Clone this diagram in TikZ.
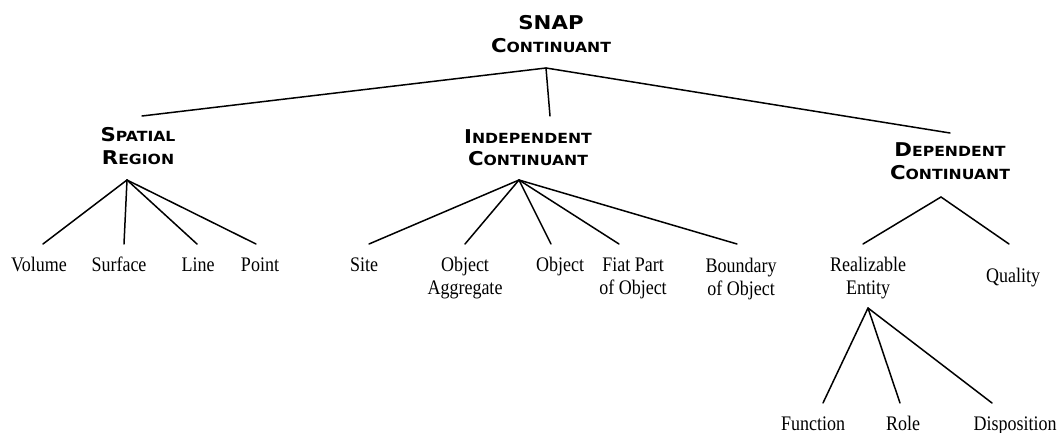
\documentclass[tikz,border=0pt]{standalone}
\usepackage{fontspec}
\usepackage{graphicx}
\setmainfont{Liberation Serif}
\newfontfamily\hdrfont{DejaVu Sans}

% small-caps style heading word: large initial, smaller capitals after it
\newcommand\hc[2]{{\fontsize{19}{19}\selectfont #1}{\fontsize{14}{14}\selectfont #2}}
% heading block (widened) and ordinary label block (slightly tall)
\newcommand\hdr[1]{\scalebox{1.12}[1]{\begin{tabular}[t]{@{}c@{}}#1\end{tabular}}}
\newcommand\lbl[1]{\scalebox{1}[1.15]{\begin{tabular}[t]{@{}c@{}}#1\end{tabular}}}

\tikzset{
  head/.style={inner sep=0pt, anchor=base, font=\hdrfont\bfseries\fontsize{14}{22.5}\selectfont},
  leaf/.style={inner sep=0pt, anchor=base, font=\fontsize{18}{20}\selectfont},
  edge/.style={line width=1.5pt, line cap=round}
}

\begin{document}
\begin{tikzpicture}[x=1pt, y=-1pt]
\useasboundingbox (0,0) rectangle (1060,433);

% headings
\node[head] (snap)  at (551,30)  {\hdr{\hc{SNAP}{}\\\hc{C}{ONTINUANT}}};
\node[head] (spat)  at (138,142) {\hdr{\hc{S}{PATIAL}\\\hc{R}{EGION}}};
\node[head] (indep) at (528,143) {\hdr{\hc{I}{NDEPENDENT}\\\hc{C}{ONTINUANT}}};
\node[head] (dep)   at (950,157) {\hdr{\hc{D}{EPENDENT}\\\hc{C}{ONTINUANT}}};

% leaves
\node[leaf] (volume)  at (39,271)   {\lbl{Volume}};
\node[leaf] (surface) at (119,271)  {\lbl{Surface}};
\node[leaf] (line)    at (198,271)  {\lbl{Line}};
\node[leaf] (point)   at (260,271)  {\lbl{Point}};
\node[leaf] (site)    at (364,271)  {\lbl{Site}};
\node[leaf] (objagg)  at (465,271)  {\lbl{Object\\Aggregate}};
\node[leaf] (object)  at (560,271)  {\lbl{Object}};
\node[leaf] (fiat)    at (633,271)  {\lbl{Fiat Part\\of Object}};
\node[leaf] (bound)   at (741,272)  {\lbl{Boundary\\of Object}};
\node[leaf] (real)    at (868,271)  {\lbl{Realizable\\Entity}};
\node[leaf] (quality) at (1013,282) {\lbl{Quality}};
\node[leaf] (func)    at (813,430)  {\lbl{Function}};
\node[leaf] (role)    at (903,430)  {\lbl{Role}};
\node[leaf] (disp)    at (1015,430) {\lbl{Disposition}};

% branching points below each parent
\coordinate (snap-j)  at (546,68);
\coordinate (spat-j)  at (127,180);
\coordinate (indep-j) at (519,180);
\coordinate (dep-j)   at (941,197);
\coordinate (real-j)  at (868,308);

% upper ends of the branches above each child
\coordinate (spat-t)    at (142,116);
\coordinate (indep-t)   at (550,116);
\coordinate (dep-t)     at (950,133);
\coordinate (volume-t)  at (43,244);
\coordinate (surface-t) at (124,244);
\coordinate (line-t)    at (197,244);
\coordinate (point-t)   at (256,244);
\coordinate (site-t)    at (369,244);
\coordinate (objagg-t)  at (465,244);
\coordinate (object-t)  at (551,244);
\coordinate (fiat-t)    at (619,244);
\coordinate (bound-t)   at (737,244);
\coordinate (real-t)    at (863,244);
\coordinate (quality-t) at (1009,244);
\coordinate (func-t)    at (823,403);
\coordinate (role-t)    at (900,403);
\coordinate (disp-t)    at (992,403);

% connectors
\foreach \c in {spat,indep,dep} \draw[edge] (snap-j) -- (\c-t);
\foreach \c in {volume,surface,line,point} \draw[edge] (spat-j) -- (\c-t);
\foreach \c in {site,objagg,object,fiat,bound} \draw[edge] (indep-j) -- (\c-t);
\foreach \c in {real,quality} \draw[edge] (dep-j) -- (\c-t);
\foreach \c in {func,role,disp} \draw[edge] (real-j) -- (\c-t);
\end{tikzpicture}
\end{document}
